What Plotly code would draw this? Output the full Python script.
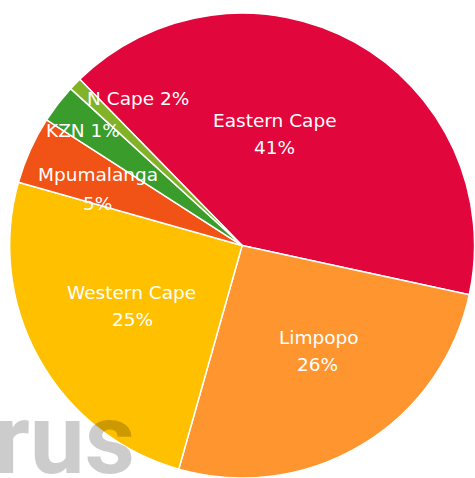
import plotly.graph_objects as go

# slice order as drawn, clockwise from the top-left
provinces = ["Eastern Cape", "Limpopo", "Western Cape", "Mpumalanga", "KZN", "N Cape"]
shares = [40.7, 26.0, 25.0, 4.7, 2.7, 0.9]   # slice sizes
pct_labels = ["41%", "26%", "25%", "5%", "1%", "2%"]  # percentages as printed on the chart
colors = ["#E1063B", "#FE952F", "#FFC000", "#F15215", "#3A9C2B", "#82B228"]

# label centres in pixels from the top-left of the page
# (name line, percent line); the two small slices carry a single line
name_pos = [(275, 120), (319, 337.5), (131.5, 292), (98, 174.5), (83, 130), (137.5, 98)]
pct_pos = [(274, 147), (317.5, 364.5), (132, 319), (97.5, 203.5), None, None]

W, H = 475, 478

fig = go.Figure(
    go.Pie(
        labels=provinces,
        values=shares,
        textinfo="none",
        sort=False,
        direction="clockwise",
        rotation=-44.3,
        marker=dict(colors=colors, line=dict(color="white", width=1.5)),
        hovertext=[f"{p} {t}" for p, t in zip(provinces, pct_labels)],
        hoverinfo="text",
        domain=dict(x=[0.0194, 1.0], y=[0.0, 0.9726]),
        showlegend=False,
    )
)


def add_label(text, pos):
    px, py = pos
    fig.add_annotation(
        text=text,
        xref="paper", yref="paper", x=px / W, y=1 - py / H,
        xanchor="center", yanchor="middle",
        showarrow=False,
        font=dict(family="DejaVu Sans", size=18.5, color="white"),
    )


for name, pct, npos, ppos in zip(provinces, pct_labels, name_pos, pct_pos):
    if ppos is None:
        add_label(f"{name} {pct}", npos)
    else:
        add_label(name, npos)
        add_label(pct, ppos)

# faint watermark in the lower-left corner
fig.add_annotation(
    text="irus",
    xref="paper", yref="paper",
    x=133 / W, y=0,
    xanchor="right", yanchor="bottom",
    xshift=4, yshift=-21,
    showarrow=False,
    font=dict(family="Roboto", size=98, weight="bold", color="rgba(0,0,0,0.2)"),
)

fig.update_layout(
    width=W,
    height=H,
    margin=dict(l=0, r=0, t=0, b=0),
    paper_bgcolor="white",
)

fig.write_html(
    "out.html",
    config={"displayModeBar": False},
    post_script="document.body.style.margin='0';",
)
